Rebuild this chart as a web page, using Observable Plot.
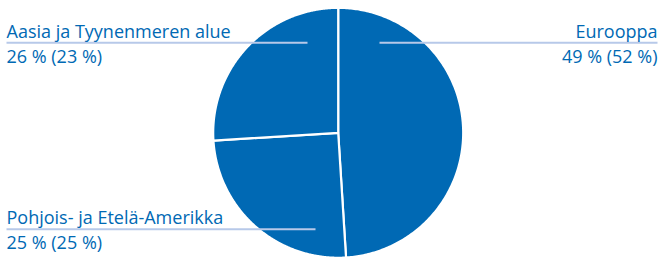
<!DOCTYPE html>
<html>
<head>
<meta charset="utf-8">
<script src="https://cdn.jsdelivr.net/npm/d3@7"></script>
<script src="https://cdn.jsdelivr.net/npm/@observablehq/plot@0.6"></script>
<style>
  html, body { margin: 0; padding: 0; background: #fff; }
  #chart svg { display: block; }
</style>
</head>
<body>
<div id="chart"></div>
<script>
// Data
const regions = ["Eurooppa", "Pohjois- ja Etelä-Amerikka", "Aasia ja Tyynenmeren alue"];
const shares = [49, 25, 26];          // current year %
const previousShares = [52, 25, 23];  // previous year %

const BLUE = "#0069b4";
const LEADER = "#b7c9e9";

// Pie geometry (unit circle, angle measured clockwise from top)
const total = d3.sum(shares);
let acc = 0;
const slices = regions.map((r, i) => {
  const a0 = acc / total * 2 * Math.PI;
  acc += shares[i];
  const a1 = acc / total * 2 * Math.PI;
  return {region: r, a0, a1};
});
const pts = [];
for (const s of slices) {
  pts.push({region: s.region, x: 0, y: 0});
  const n = 240;
  for (let k = 0; k <= n; k++) {
    const a = s.a0 + (s.a1 - s.a0) * k / n;
    pts.push({region: s.region, x: Math.sin(a), y: Math.cos(a)});
  }
  pts.push({region: s.region, x: 0, y: 0});
}

// Layout: pixel helpers mapping into unit scale space
const CX = 337.7, CY = 132.3, R = 125;
const ux = px => (px - CX) / R;
const uy = py => (CY - py) / R;

const labels = [
  {i: 2, x: 6, anchor: "start", y1: 37, y2: 62, lx1: 6, lx2: 307, ly: 42.3},
  {i: 0, x: 657, anchor: "end", y1: 37, y2: 62, lx1: 379, lx2: 657, ly: 42.3},
  {i: 1, x: 6, anchor: "start", y1: 223.5, y2: 248.5, lx1: 6, lx2: 315, ly: 228.7}
];
const textRows = [];
const leaders = [];
for (const l of labels) {
  textRows.push({x: ux(l.x), y: uy(l.y1), t: regions[l.i], a: l.anchor});
  textRows.push({x: ux(l.x), y: uy(l.y2), t: `${shares[l.i]} % (${previousShares[l.i]} %)`, a: l.anchor});
  leaders.push({x1: ux(l.lx1), x2: ux(l.lx2), y: uy(l.ly)});
}

const chart = Plot.plot({
  width: 664,
  height: 257,
  margin: 0,
  style: {fontFamily: "'Open Sans', sans-serif", background: "#fff", overflow: "visible"},
  x: {domain: [-1, 1], range: [CX - R, CX + R], axis: null},
  y: {domain: [-1, 1], range: [CY + R, CY - R], axis: null},
  marks: [
    Plot.line(pts, {x: "x", y: "y", z: "region", fill: BLUE, stroke: "#fff", strokeWidth: 2.2, strokeLinejoin: "round", curve: "linear"}),
    Plot.link(leaders, {x1: "x1", x2: "x2", y1: "y", y2: "y", stroke: LEADER, strokeWidth: 2}),
    Plot.text(textRows.filter(d => d.a === "start"), {x: "x", y: "y", text: "t", textAnchor: "start", lineAnchor: "bottom", fill: BLUE, fontSize: 18}),
    Plot.text(textRows.filter(d => d.a === "end"), {x: "x", y: "y", text: "t", textAnchor: "end", lineAnchor: "bottom", fill: BLUE, fontSize: 18})
  ]
});
document.getElementById("chart").append(chart);
</script>
</body>
</html>
